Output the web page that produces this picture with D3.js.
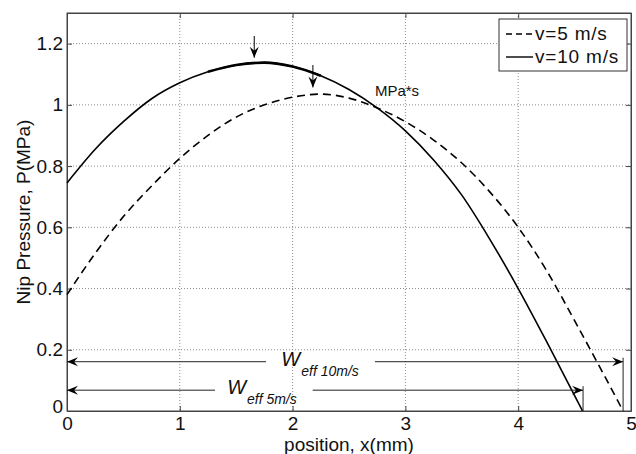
<!DOCTYPE html>
<html>
<head>
<meta charset="utf-8">
<script src="https://cdn.jsdelivr.net/npm/d3@7"></script>
<style>
body { margin: 0; background: #fff; }
svg { font-family: "Liberation Sans", Arial, sans-serif; }
.grid line { stroke: #8c8c8c; stroke-dasharray: 1,2; stroke-width: 1; }
</style>
</head>
<body>
<svg id="chart"></svg>
<script>
// v = 10 m/s (solid)
var xFast = [0, 0.25, 0.5, 0.75, 1.0, 1.25, 1.5, 1.75, 2.0, 2.25, 2.5, 2.75, 3.0, 3.25, 3.5, 3.75, 4.0, 4.25, 4.5, 4.57];
var pFast = [0.745, 0.855, 0.945, 1.02, 1.072, 1.108, 1.13, 1.138, 1.125, 1.095, 1.05, 0.99, 0.915, 0.82, 0.705, 0.56, 0.40, 0.228, 0.05, 0];
// v = 5 m/s (dashed)
var xSlow = [0, 0.25, 0.5, 0.75, 1.0, 1.25, 1.5, 1.75, 2.0, 2.25, 2.5, 2.75, 3.0, 3.25, 3.5, 3.75, 4.0, 4.25, 4.5, 4.75, 4.93];
var pSlow = [0.38, 0.515, 0.635, 0.735, 0.825, 0.90, 0.96, 1.0, 1.025, 1.035, 1.022, 0.99, 0.945, 0.885, 0.81, 0.715, 0.60, 0.46, 0.295, 0.125, 0];

var xTicks = [0, 1, 2, 3, 4, 5];
var yTicks = [0, 0.2, 0.4, 0.6, 0.8, 1, 1.2];
var legendNames = ["v=5 m/s", "v=10 m/s"];

// peak markers (x, tip value, top value)
var peakArrows = [[1.66, 1.154, 1.225], [2.18, 1.057, 1.13]];
// effective width arrows: label, y value, end x, gap start, gap end, text x
var weffLabels = ["eff 10m/s", "eff 5m/s"];
var weffY = [0.161, 0.068];
var weffEnd = [4.93, 4.575];
var weffGap = [[1.764, 2.73], [1.312, 2.178]];
var weffTextX = [1.90, 1.42];

var screen = {width: 636, height: 454};
var margins = {left: 67, right: 5, top: 13, bottom: 43};
var graphDim = {
    width: screen.width - margins.left - margins.right,
    height: screen.height - margins.top - margins.bottom
};

var svg = d3.select("#chart")
    .attr("width", screen.width)
    .attr("height", screen.height);

var xScale = d3.scaleLinear().domain([0, 5]).range([0, graphDim.width]);
var yScale = d3.scaleLinear().domain([0, 1.3]).range([graphDim.height, 0]);

var g = svg.append("g")
    .attr("transform", "translate(" + margins.left + "," + margins.top + ")");

//grid
var grid = g.append("g").classed("grid", true);
grid.selectAll(".gx").data(xTicks.slice(1, -1)).enter().append("line")
    .attr("x1", function(d){ return xScale(d); })
    .attr("x2", function(d){ return xScale(d); })
    .attr("y1", 0).attr("y2", graphDim.height);
grid.selectAll(".gy").data(yTicks.slice(1)).enter().append("line")
    .attr("y1", function(d){ return yScale(d); })
    .attr("y2", function(d){ return yScale(d); })
    .attr("x1", 0).attr("x2", graphDim.width);

//axes (ticks inward, MATLAB style)
var axisColor = "#444";
var xb = g.append("g").attr("transform", "translate(0," + graphDim.height + ")")
    .call(d3.axisBottom(xScale).tickValues(xTicks).tickSizeInner(-5).tickSizeOuter(0).tickPadding(6).tickFormat(d3.format("d")));
var xt = g.append("g")
    .call(d3.axisTop(xScale).tickValues(xTicks).tickSizeInner(-5).tickSizeOuter(0).tickFormat(""));
var yl = g.append("g")
    .call(d3.axisLeft(yScale).tickValues(yTicks).tickSizeInner(-5).tickSizeOuter(0).tickPadding(4).tickFormat(function(d){ return d3.format("~g")(d); }));
var yr = g.append("g").attr("transform", "translate(" + graphDim.width + ",0)")
    .call(d3.axisRight(yScale).tickValues(yTicks).tickSizeInner(-5).tickSizeOuter(0).tickFormat(""));

[xb, xt, yl, yr].forEach(function(a){
    a.selectAll("path").attr("stroke", axisColor);
    a.selectAll("line").attr("stroke", axisColor);
    a.selectAll("text").attr("fill", "#111").style("font-size", "19px").style("font-family", "Liberation Sans, Arial, sans-serif");
});
// frame
g.append("rect").attr("width", graphDim.width).attr("height", graphDim.height)
    .attr("fill", "none").attr("stroke", axisColor);
// y zero label sits a little higher, like MATLAB
yl.selectAll(".tick text").filter(function(d){ return d === 0; }).attr("dy", "0.1em");

//curves
var line = d3.line()
    .x(function(d){ return xScale(d[0]); })
    .y(function(d){ return yScale(d[1]); })
    .curve(d3.curveMonotoneX);

var fast = d3.zip(xFast, pFast);
var slow = d3.zip(xSlow, pSlow);

g.append("path").datum(slow).attr("d", line)
    .attr("fill", "none").attr("stroke", "#000").attr("stroke-width", 1.6)
    .attr("stroke-dasharray", "8,5");
g.append("path").datum(fast).attr("d", line)
    .attr("fill", "none").attr("stroke", "#000").attr("stroke-width", 1.6);

// bold portions near the peaks
g.append("path").datum(fast.filter(function(d){ return d[0] >= 1.25 && d[0] <= 2.25; })).attr("d", line)
    .attr("fill", "none").attr("stroke", "#000").attr("stroke-width", 2.6);

//arrow head marker
var defs = svg.append("defs");
defs.append("marker").attr("id", "head")
    .attr("viewBox", "-12 -6 14 12")
    .attr("refX", 0).attr("refY", 0)
    .attr("markerWidth", 14).attr("markerHeight", 12)
    .attr("markerUnits", "userSpaceOnUse")
    .attr("orient", "auto-start-reverse")
    .append("path").attr("d", "M0,0 L-11,-4.5 L-7,0 L-11,4.5 Z").attr("fill", "#000");

//peak arrows
g.selectAll(".peak").data(peakArrows).enter().append("line")
    .attr("x1", function(d){ return xScale(d[0]); })
    .attr("x2", function(d){ return xScale(d[0]); })
    .attr("y1", function(d){ return yScale(d[2]); })
    .attr("y2", function(d){ return yScale(d[1]); })
    .attr("stroke", "#000").attr("stroke-width", 1)
    .attr("marker-end", "url(#head)");

g.append("text").text("MPa*s")
    .attr("x", xScale(2.73)).attr("y", yScale(1.03))
    .style("font-size", "15px").attr("fill", "#111");

//effective width arrows
weffY.forEach(function(yv, i){
    var yy = yScale(yv);
    g.append("line")
        .attr("x1", xScale(weffGap[i][0])).attr("x2", xScale(0))
        .attr("y1", yy).attr("y2", yy)
        .attr("stroke", "#222").attr("stroke-width", 1)
        .attr("marker-end", "url(#head)");
    g.append("line")
        .attr("x1", xScale(weffGap[i][1])).attr("x2", xScale(weffEnd[i]))
        .attr("y1", yy).attr("y2", yy)
        .attr("stroke", "#222").attr("stroke-width", 1)
        .attr("marker-end", "url(#head)");
    g.append("line")
        .attr("x1", xScale(weffEnd[i])).attr("x2", xScale(weffEnd[i]))
        .attr("y1", yy - 4).attr("y2", yScale(0))
        .attr("stroke", "#222").attr("stroke-width", 1);
    var t = g.append("text")
        .attr("x", xScale(weffTextX[i])).attr("y", yy + 4)
        .style("font-style", "italic").attr("fill", "#111");
    t.append("tspan").text("W").style("font-size", "20px");
    t.append("tspan").text(weffLabels[i]).attr("dy", 10).attr("dx", 1).style("font-size", "14px");
});

//labels
svg.append("text").text("position, x(mm)")
    .attr("text-anchor", "middle")
    .attr("x", margins.left + graphDim.width / 2)
    .attr("y", 451)
    .style("font-size", "19px").attr("fill", "#111");
svg.append("g")
    .attr("transform", "translate(30," + (margins.top + graphDim.height / 2) + ")")
    .append("text").text("Nip Pressure,  P(MPa)")
    .attr("text-anchor", "middle")
    .attr("transform", "rotate(-90)")
    .style("font-size", "19px").attr("fill", "#111");

//legend
var legend = svg.append("g").attr("transform", "translate(499,19)");
legend.append("rect").attr("width", 128).attr("height", 52)
    .attr("fill", "#fff").attr("stroke", "#333");
var entries = legend.selectAll(".entry").data(legendNames).enter().append("g")
    .attr("transform", function(d, i){ return "translate(0," + (15 + i * 23) + ")"; });
entries.append("line").attr("x1", 7).attr("x2", 34).attr("y1", 0).attr("y2", 0)
    .attr("stroke", "#000").attr("stroke-width", 1.4)
    .attr("stroke-dasharray", function(d, i){ return i === 0 ? "6,4" : null; });
entries.append("text").text(function(d){ return d; })
    .attr("x", 36).attr("y", 6)
    .style("font-size", "19px").style("letter-spacing", "0.8px").attr("fill", "#111");
</script>
</body>
</html>
